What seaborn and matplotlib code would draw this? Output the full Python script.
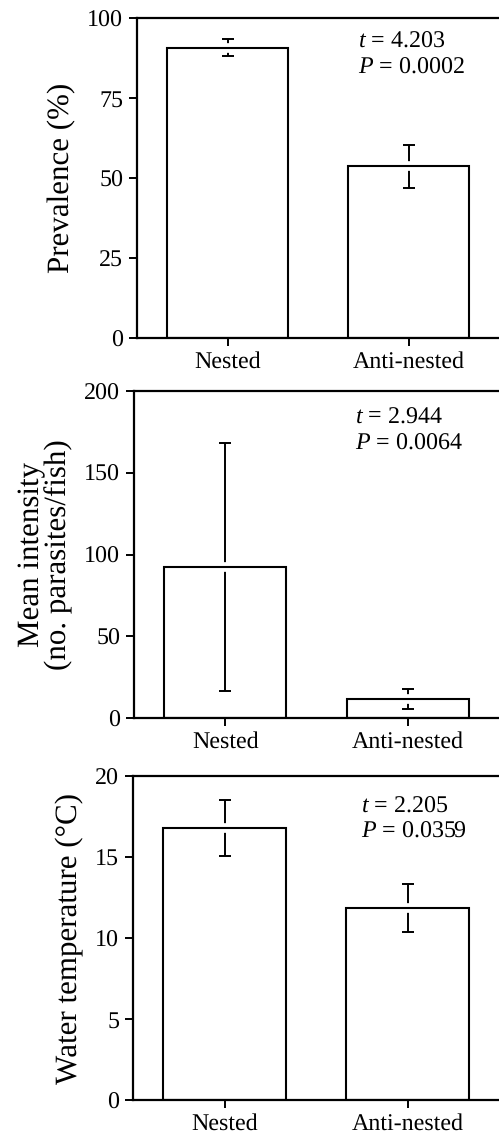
import matplotlib
matplotlib.use("Agg")
import matplotlib.pyplot as plt
import matplotlib.patheffects as pe
from matplotlib.patches import Rectangle
import seaborn as sns

categories = ["Nested", "Anti-nested"]

prevalence = [90.7, 53.7]
prevalence_se = [2.7, 6.7]

intensity = [92.5, 11.8]
intensity_se = [75.8, 6.0]

temperature = [16.8, 11.85]
temperature_se = [1.72, 1.46]

stats_text = [("4.203", "0.0002"), ("2.944", "0.0064"), ("2.205", "0.0359")]
y_labels = ["Prevalence (%)", "Mean intensity\n(no. parasites/fish)", "Water temperature (\u00b0C)"]
y_ticks = [[0, 25, 50, 75, 100], [0, 50, 100, 150, 200], [0, 5, 10, 15, 20]]

sns.set_theme(style="ticks")
plt.rcParams["font.family"] = ["Liberation Serif", "DejaVu Serif"]
plt.rcParams["mathtext.fontset"] = "custom"
plt.rcParams["mathtext.rm"] = "Liberation Serif"
plt.rcParams["mathtext.it"] = "Liberation Serif:italic"
plt.rcParams["text.hinting"] = "no_hinting"
plt.rcParams["text.hinting_factor"] = 1
for key in ["text.color", "axes.labelcolor", "xtick.color", "ytick.color", "axes.edgecolor"]:
    plt.rcParams[key] = "black"

W, H = 499, 1136
fig = plt.figure(figsize=(W / 100, H / 100), dpi=100)

# axes boxes in pixels: left, top, bottom
boxes = [(137, 18, 338), (134, 391, 718), (133, 776, 1100)]
text_pos = [(0.61, 0.925, 0.844), (0.605, 0.917, 0.837), (0.623, 0.904, 0.827)]

panels = [(prevalence, prevalence_se), (intensity, intensity_se), (temperature, temperature_se)]

for i, ((vals, errs), (left, top, bottom)) in enumerate(zip(panels, boxes)):
    ax = fig.add_axes([left / W, 1 - bottom / H, (W - left) / W, (bottom - top) / H])
    sns.barplot(x=categories, y=vals, color="white", saturation=1, width=0.67,
                linewidth=0, errorbar=None, ax=ax)
    bars = list(ax.patches)
    for p in bars:
        p.set_zorder(0.5)
    ax.errorbar(range(len(vals)), vals, yerr=errs, fmt="none", ecolor="black",
                elinewidth=1.4, capsize=4.3, capthick=1.4, zorder=1)
    # bar outlines with a white halo so the error bar breaks at the bar top
    for p in bars:
        r = Rectangle((p.get_x(), p.get_y()), p.get_width(), p.get_height(),
                      fill=False, edgecolor="black", linewidth=1.5, zorder=1.2,
                      path_effects=[pe.Stroke(linewidth=7, foreground="white"), pe.Normal()])
        ax.add_patch(r)

    ax.set_xlim(-0.5, 1.5)
    ax.set_ylim(y_ticks[i][0], y_ticks[i][-1])
    ax.set_yticks(y_ticks[i])
    ax.set_ylabel(y_labels[i], fontsize=22, labelpad=8, linespacing=0.95)
    ax.set_xlabel("")
    ax.spines["right"].set_visible(False)
    for s in ["left", "top", "bottom"]:
        ax.spines[s].set_linewidth(1.6)
        ax.spines[s].set_color("black")
    ax.tick_params(axis="y", direction="out", length=6, width=1.4, labelsize=17, pad=4, color="black")
    ax.tick_params(axis="x", direction="out", length=6, width=1.4, labelsize=17.5, pad=3.5, color="black")
    ax.set_facecolor("white")

    tx, ty1, ty2 = text_pos[i]
    t_val, p_val = stats_text[i]
    ax.text(tx, ty1, r"$t$ = " + t_val, transform=ax.transAxes, fontsize=17.5, va="center", ha="left")
    ax.text(tx, ty2, r"$P$ = " + p_val, transform=ax.transAxes, fontsize=17.5, va="center", ha="left")

fig.savefig("out.png", dpi=100, facecolor="white")
